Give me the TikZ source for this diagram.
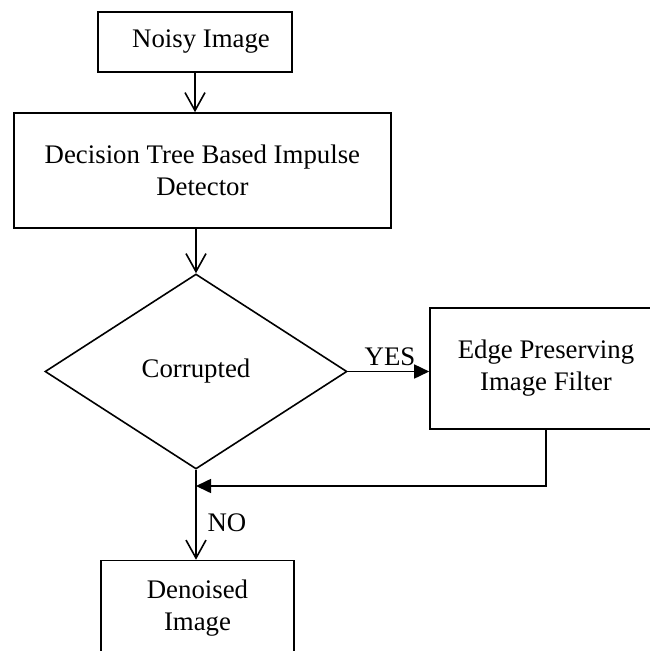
\documentclass[tikz,border=0pt]{standalone}
\usepackage{fontspec}
\setmainfont{Liberation Serif}
\usetikzlibrary{arrows.meta,shapes.geometric}
\begin{document}
\begin{tikzpicture}[x=1pt,y=-1pt,
  every node/.style={font=\fontsize{26.8}{32}\selectfont},
  box/.style={draw,line width=1.6pt,rectangle,inner sep=0pt,align=center},
  flowline/.style={line width=1.6pt},
  openarrow/.style={flowline,-{Straight Barb[length=18pt,width=20pt,line width=1.6pt]}},
  fillarrow/.style={flowline,-{Triangle[length=15pt,width=14pt]}},
  lbl/.style={inner sep=0pt}]
\useasboundingbox (0,0) rectangle (650,651);
\clip (0,0) rectangle (650,651);
\node[box,minimum width=194pt,minimum height=60pt] (noisy) at (195,42) {\hspace*{12pt}Noisy Image};
\node[box,minimum width=377pt,minimum height=115pt] (dec) at (202.4,170.5) {Decision Tree Based Impulse\\Detector};
\node[draw,line width=1.6pt,diamond,inner sep=0pt,minimum width=302pt,minimum height=195pt] (dia) at (196,371.5) {Corrupted};
\node[box,minimum width=232pt,minimum height=121pt] (edge) at (546,368.5) {Edge Preserving\\Image Filter};
\node[box,minimum width=193pt,minimum height=96pt] (den) at (197.5,608.5) {Denoised\\Image};
\coordinate (join) at (196,486);
\draw[openarrow] (noisy.south) -- (noisy.south |- dec.north);
\draw[openarrow] (dia.north |- dec.south) -- (dia.north);
\draw[fillarrow] (dia.east) -- (dia.east -| edge.west);
\draw[fillarrow] (edge.south) |- (join);
\draw[openarrow] (dia.south) -- (dia.south |- den.north);
\node[lbl] (yes) at (390,357) {YES};
\node[lbl] (no) at (227,523) {NO};
\end{tikzpicture}
\end{document}
